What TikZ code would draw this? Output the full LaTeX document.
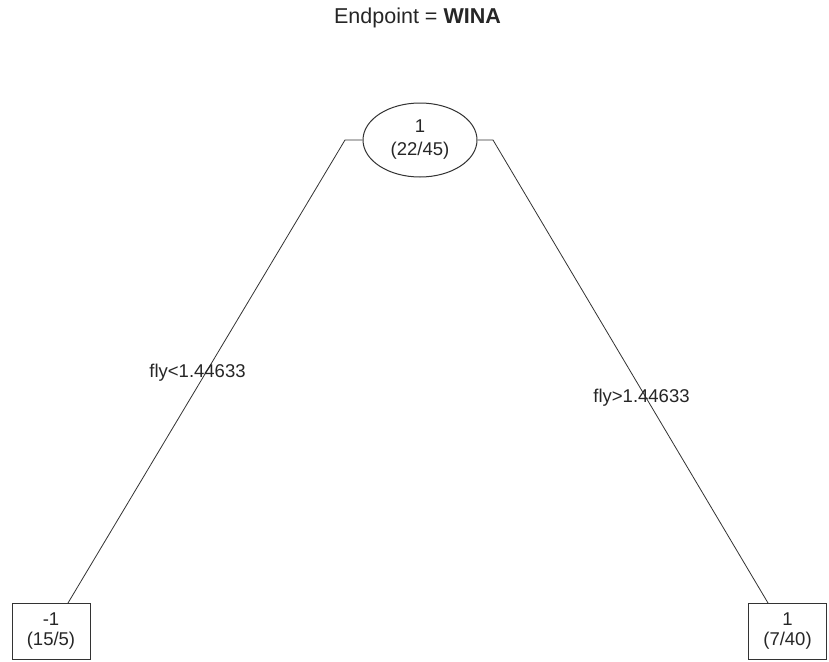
\documentclass[tikz,border=0pt]{standalone}
\usepackage{fontspec}
\setmainfont{Liberation Sans}
\usetikzlibrary{shapes.geometric}
\begin{document}
\begin{tikzpicture}[x=1pt,y=-1pt,
  lab/.style={font=\fontsize{18.5}{20}\selectfont, text=black!85, inner sep=0pt, align=center},
  leaf/.style={draw=black!80, line width=1pt, minimum width=78pt, minimum height=56pt, inner sep=0pt, align=center, font=\fontsize{18.5}{20.5}\selectfont, text=black!85},
  split/.style={draw=black!80, line width=1pt, ellipse, minimum width=114pt, minimum height=74pt, inner sep=0pt, align=center, font=\fontsize{18.5}{23}\selectfont, text=black!85},
  edge/.style={draw=black!80, line width=0.8pt}]
\useasboundingbox (0,0) rectangle (829,661);
\fill[white] (0,0) rectangle (829,661);
\node[lab, font=\fontsize{21.5}{24}\selectfont] (title) at (417.5,17.5) {Endpoint = \textbf{WINA}};
\node[split] (root) at (420,140) {1\\(22/45)};
\node[leaf] (l) at (51,631) {-1\\(15/5)};
\node[leaf] (r) at (787.5,631) {1\\(7/40)};
\coordinate (ls) at (345,140);
\coordinate (rs) at (493,140);
\coordinate (lt) at (68,603);
\coordinate (rt) at (768,603);
\draw[edge] (root.west) -- (ls) -- (lt);
\draw[edge] (root.east) -- (rs) -- (rt);
\node[lab] (llab) at (197.5,373) {fly<1.44633};
\node[lab] (rlab) at (641.5,398) {fly>1.44633};
\end{tikzpicture}
\end{document}
